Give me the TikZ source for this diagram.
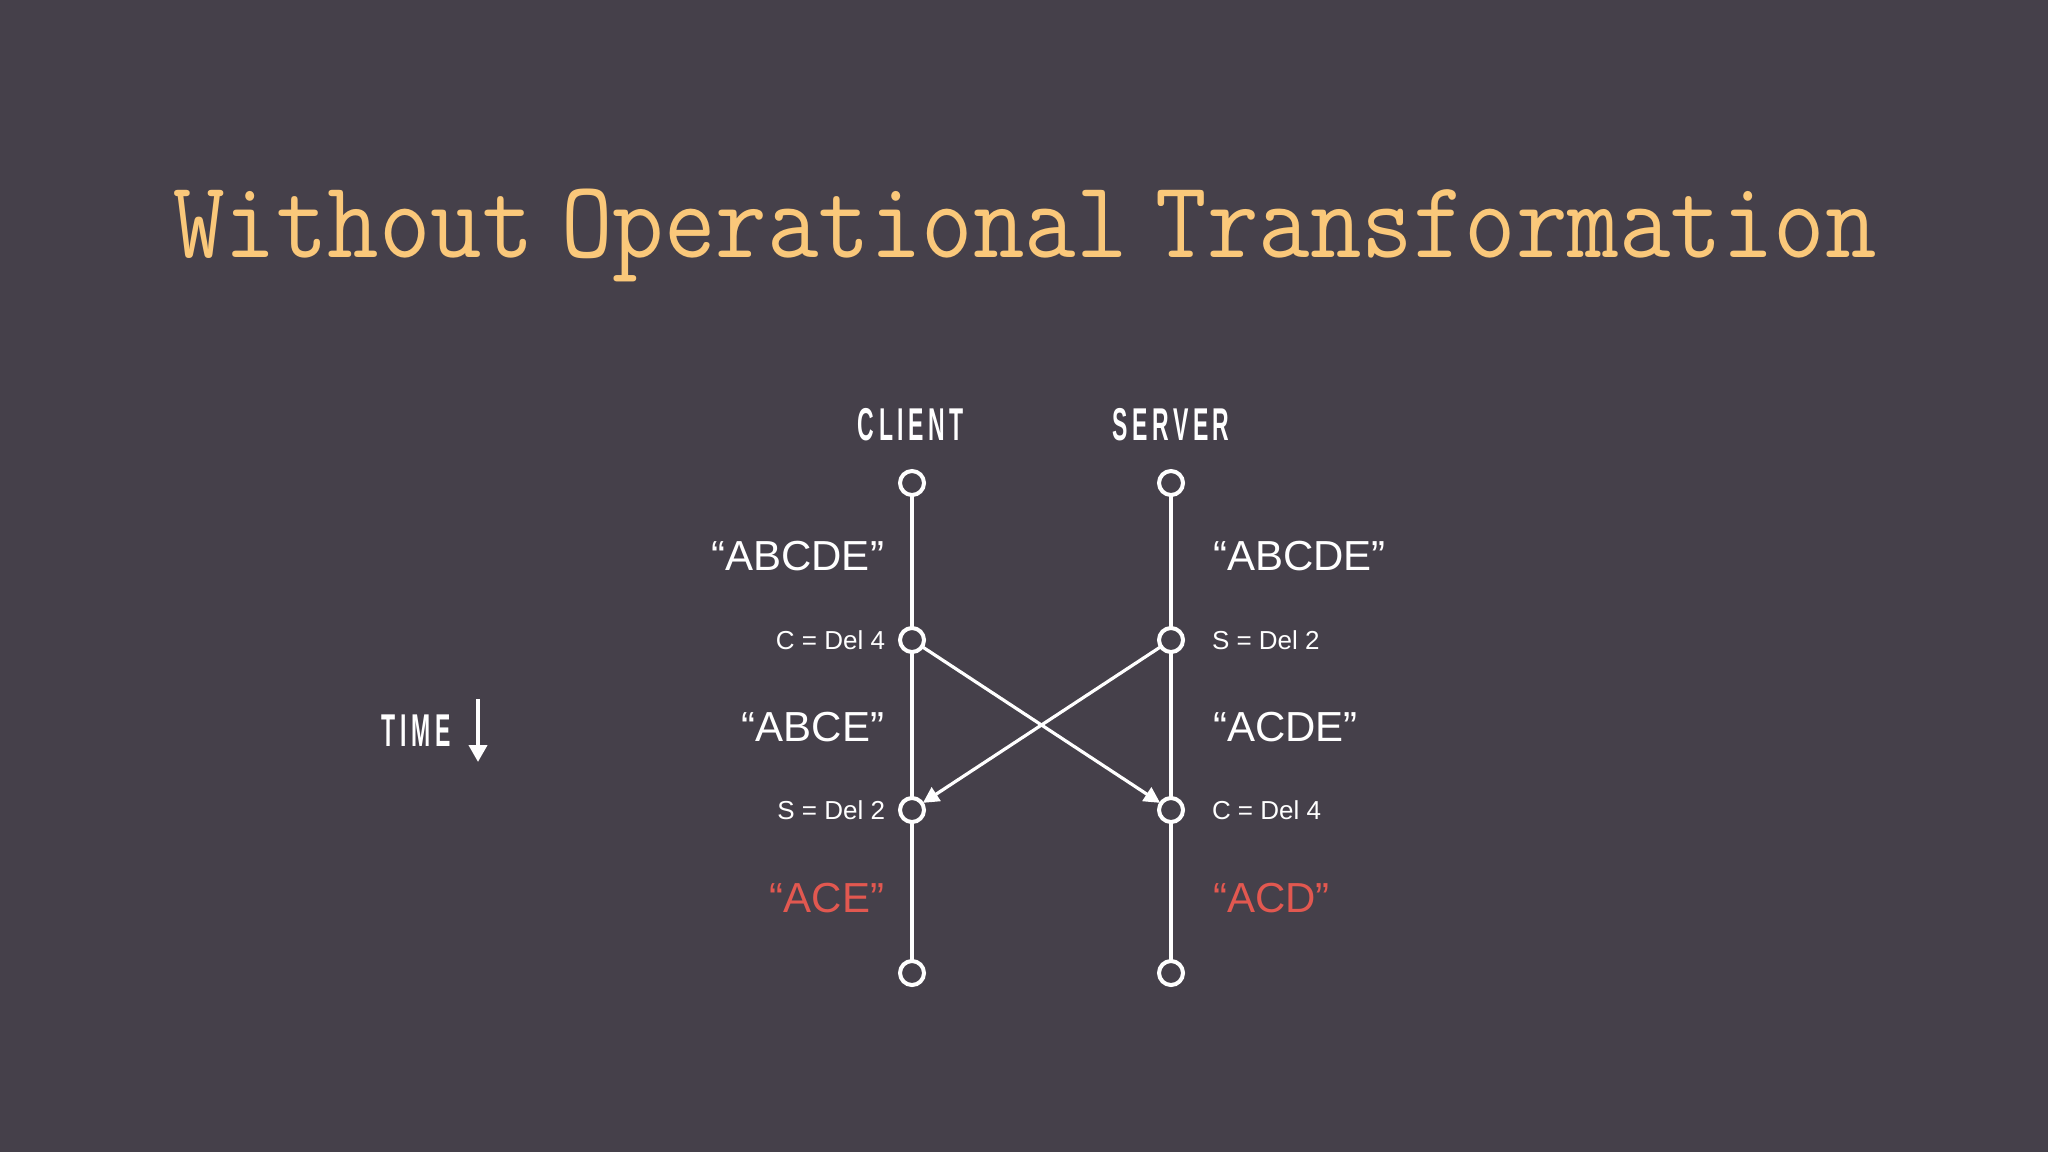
\documentclass[tikz,border=0pt]{standalone}
\usepackage{fontspec}
\usetikzlibrary{arrows.meta}
\setmainfont{Liberation Sans}
\newfontfamily\headfont[LetterSpace=20]{Liberation Sans}
\definecolor{bg}{RGB}{69,64,74}
\definecolor{titlecol}{RGB}{250,200,122}
\definecolor{redtxt}{RGB}{226,88,80}
\newcommand{\tsp}{\hspace{0.28em}}
\begin{document}
\begin{tikzpicture}[x=0.5pt,y=-0.5pt,
  every node/.style={inner sep=0pt,outer sep=0pt},
  evt/.style={circle,draw=white,fill=bg,line width=2pt,minimum size=12pt},
  tline/.style={draw=white,line width=1.6pt},
  msg/.style={draw=white,line width=1.6pt,-{Triangle[length=8pt,width=8pt]},shorten >=0.5pt},
  head/.style={text=white,font=\headfont\bfseries\fontsize{23}{23}\selectfont},
  big/.style={text=white,font=\fontsize{21}{21}\selectfont},
  small/.style={text=white,font=\fontsize{13}{13}\selectfont},
  bigred/.style={text=redtxt,font=\fontsize{21}{21}\selectfont}]
\useasboundingbox (0,0) rectangle (2048,1152);
\fill[bg] (0,0) rectangle (2048,1152);
% title
\node[anchor=base,text=titlecol] (title) at (1025,257)
  {\scalebox{1}[1.1]{\fontsize{50}{50}\selectfont\ttfamily\addfontfeatures{FakeBold=3}Without\tsp{}Operational\tsp{}Transformation}};
% headers
\node[head,anchor=base] (client) at (911,440) {\scalebox{0.5}[1]{CLIENT}};
\node[head,anchor=base] (server) at (1171,440) {\scalebox{0.5}[1]{SERVER}};
\node[head,anchor=base] (time) at (416,746) {\scalebox{0.5}[1]{TIME}};
\coordinate (tA) at (478,699);
\coordinate (tB) at (478,762);
\draw[white,line width=2pt,-{Triangle[length=8.5pt,width=9pt]}] (tA) -- (tB);
% timelines
\draw[tline] (912,483) -- (912,973);
\draw[tline] (1171,483) -- (1171,973);
\node[evt] (c1) at (912,483) {};
\node[evt] (c2) at (912,640) {};
\node[evt] (c3) at (912,810) {};
\node[evt] (c4) at (912,973) {};
\node[evt] (s1) at (1171,483) {};
\node[evt] (s2) at (1171,640) {};
\node[evt] (s3) at (1171,810) {};
\node[evt] (s4) at (1171,973) {};
% messages
\draw[msg] (c2) -- (s3);
\draw[msg] (s2) -- (c3);
% labels
\node[big,anchor=base east] (lab1) at (884,570) {“ABCDE”};
\node[big,anchor=base west] (lab2) at (1213,570) {“ABCDE”};
\node[small,anchor=base east] (lab3) at (885,649) {C = Del 4};
\node[small,anchor=base west] (lab4) at (1212,649) {S = Del 2};
\node[big,anchor=base east] (lab5) at (884,741) {“ABCE”};
\node[big,anchor=base west] (lab6) at (1213,741) {“ACDE”};
\node[small,anchor=base east] (lab7) at (885,819) {S = Del 2};
\node[small,anchor=base west] (lab8) at (1212,819) {C = Del 4};
\node[bigred,anchor=base east] (lab9) at (884,912) {“ACE”};
\node[bigred,anchor=base west] (lab10) at (1213,912) {“ACD”};
\end{tikzpicture}
\end{document}
